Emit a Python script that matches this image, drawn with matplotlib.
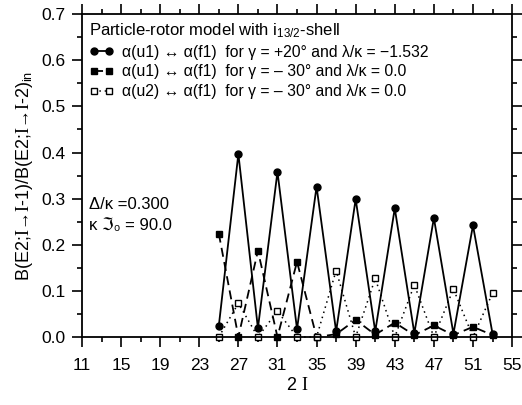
import matplotlib
matplotlib.use("Agg")
import matplotlib.pyplot as plt
from matplotlib.ticker import MultipleLocator, FixedLocator, FormatStrFormatter

plt.rcParams["font.family"] = ["Liberation Sans", "DejaVu Sans"]
plt.rcParams["mathtext.fontset"] = "custom"
plt.rcParams["mathtext.rm"] = "Liberation Serif"
plt.rcParams["mathtext.sf"] = "Liberation Sans"
plt.rcParams["mathtext.it"] = "Liberation Sans:italic"

# 2I values (odd spins)
two_I = [25, 27, 29, 31, 33, 35, 37, 39, 41, 43, 45, 47, 49, 51, 53]

# alpha(u1) <-> alpha(f1), gamma=+20, lambda/kappa=-1.532
ratio_g20 = [0.024, 0.397, 0.019, 0.358, 0.017, 0.326, 0.012, 0.299,
             0.012, 0.279, 0.008, 0.258, 0.007, 0.242, 0.007]
# alpha(u1) <-> alpha(f1), gamma=-30, lambda/kappa=0.0
ratio_u1_g30 = [0.224, 0.0, 0.187, 0.0, 0.163, 0.0, 0.006, 0.037,
                0.005, 0.031, 0.004, 0.025, 0.004, 0.022, 0.004]
# alpha(u2) <-> alpha(f1), gamma=-30, lambda/kappa=0.0
ratio_u2_g30 = [0.0, 0.073, 0.0, 0.056, 0.0, 0.0, 0.144, 0.0,
                0.127, 0.0, 0.113, 0.0, 0.104, 0.0, 0.095]

labels = [
    "α(u1) ↔ α(f1)  for γ = +20° and λ/κ = −1.532",
    "α(u1) ↔ α(f1)  for γ = – 30° and λ/κ = 0.0",
    "α(u2) ↔ α(f1)  for γ = – 30° and λ/κ = 0.0",
]
xticks = [11, 15, 19, 23, 27, 31, 35, 39, 43, 47, 51, 55]

fig = plt.figure(figsize=(5.22, 4.05), dpi=100)
ax = fig.add_axes([0.157, 0.168, 0.824, 0.797])

ax.plot(two_I, ratio_g20, "-", color="black", lw=1.3, marker="o", ms=5,
        label=labels[0], clip_on=False, zorder=3)
ax.plot(two_I, ratio_u1_g30, color="black", lw=1.3, ls=(0, (5, 3)),
        marker="s", ms=5, label=labels[1], clip_on=False, zorder=2)
ax.plot(two_I, ratio_u2_g30, color="black", lw=1.1, ls=(0, (1, 2.5)),
        marker="s", ms=4.5, mfc="white", mec="black", mew=1.0,
        label=labels[2], clip_on=False, zorder=2)

ax.set_xlim(11, 55)
ax.set_ylim(0, 0.7)
ax.xaxis.set_major_locator(FixedLocator(xticks))
ax.xaxis.set_minor_locator(FixedLocator([t + 2 for t in xticks[:-1]]))
ax.yaxis.set_major_locator(MultipleLocator(0.1))
ax.yaxis.set_minor_locator(MultipleLocator(0.05))
ax.yaxis.set_major_formatter(FormatStrFormatter("%.1f"))

ax.tick_params(which="both", direction="out", top=True, right=True,
               width=1.2, labelsize=12.5)
ax.tick_params(which="major", length=7)
ax.tick_params(which="minor", length=3.5)
ax.tick_params(axis="x", pad=8)
ax.tick_params(axis="y", pad=5)
for sp in ax.spines.values():
    sp.set_linewidth(1.3)

ax.set_xlabel(r"2 $\mathrm{I}$", fontsize=13, labelpad=3)
ax.set_ylabel(r"B(E2;$\mathrm{I}$→$\mathrm{I}$-1)/B(E2;$\mathrm{I}$→$\mathrm{I}$-2)$_\mathsf{in}$",
              fontsize=13, labelpad=4)

leg = ax.legend(loc="upper left", frameon=False, fontsize=11.3,
                title=r"Particle-rotor model with i$_\mathsf{13/2}$-shell",
                title_fontsize=12, alignment="left", numpoints=2,
                handlelength=1.6, handletextpad=0.5, labelspacing=0.3,
                borderaxespad=0.15, borderpad=0.3)

ax.text(0.017, 0.395, "Δ/κ =0.300", transform=ax.transAxes, fontsize=12)
ax.text(0.017, 0.33, "κ ℑ₀ = 90.0", transform=ax.transAxes, fontsize=12)

fig.savefig("out.png", dpi=100)
